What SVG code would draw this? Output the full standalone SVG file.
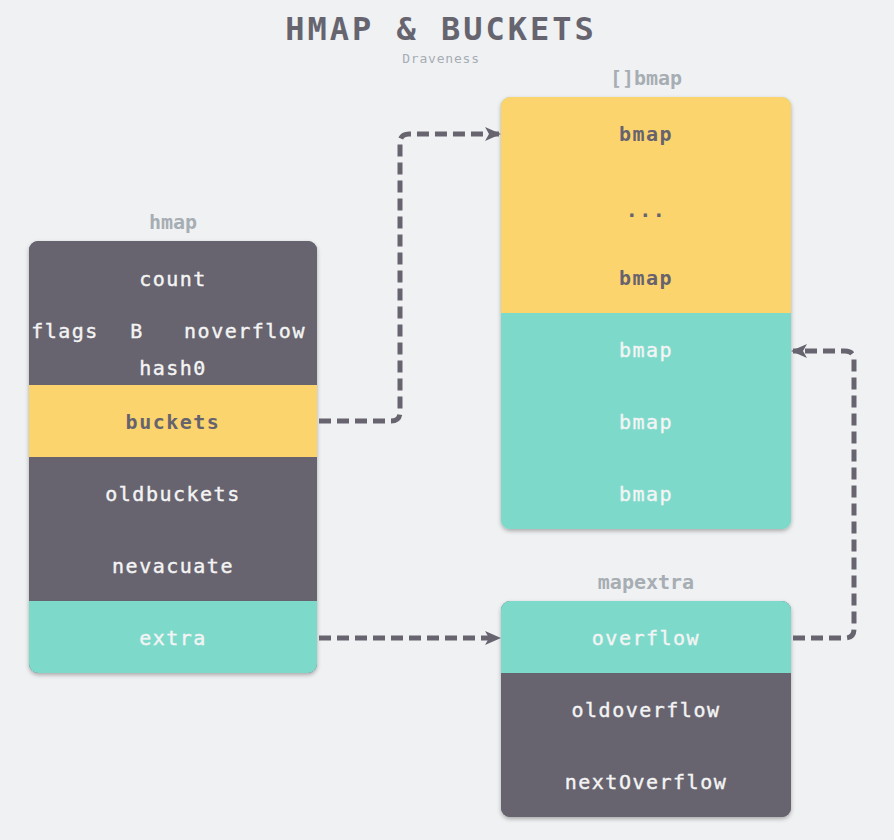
<svg xmlns="http://www.w3.org/2000/svg" width="894" height="840" viewBox="0 0 894 840">
<style>
.t{font-family:"DejaVu Sans Mono","Liberation Mono",monospace;font-size:20px;letter-spacing:1.5px;text-anchor:middle;fill:#f4f4f4;stroke:#f4f4f4;stroke-width:0.4px}
.d{fill:#66636f;stroke:none;font-weight:bold}
.lbl{font-family:"DejaVu Sans Mono","Liberation Mono",monospace;font-size:20px;font-weight:bold;text-anchor:middle;fill:#a6adb3}
.dark{fill:#67646f}.yel{fill:#fbd46d}.teal{fill:#7ddacb}
.c{fill:none;stroke:#67646f;stroke-width:5;stroke-dasharray:12 6}
</style>
<defs>
<filter id="sh" x="-10%" y="-10%" width="120%" height="120%"><feDropShadow dx="0" dy="2" stdDeviation="2" flood-color="#000" flood-opacity="0.3"/></filter>
<clipPath id="c1"><rect x="29" y="241" width="288" height="432" rx="9"/></clipPath>
<clipPath id="c2"><rect x="501" y="97" width="290" height="432" rx="9"/></clipPath>
<clipPath id="c3"><rect x="501" y="601" width="290" height="216" rx="9"/></clipPath>
<marker id="ar" markerWidth="16" markerHeight="16" refX="14" refY="8" orient="auto" markerUnits="userSpaceOnUse"><path d="M0,1 L16,8 L0,15 L4,8 Z" fill="#67646f"/></marker>
</defs>
<rect width="894" height="840" fill="#f0f1f3"/>
<text x="441" y="40" font-family="DejaVu Sans Mono,Liberation Mono,monospace" font-size="32" font-weight="bold" letter-spacing="3" text-anchor="middle" fill="#66656f">HMAP &amp; BUCKETS</text>
<text x="441" y="63" font-family="DejaVu Sans Mono,Liberation Mono,monospace" font-size="13" letter-spacing="0.8" text-anchor="middle" fill="#a6adb3">Draveness</text>
<g id="hmap">
<text class="lbl" x="173" y="229">hmap</text>
<rect x="29" y="241" width="288" height="432" rx="9" fill="#67646f" filter="url(#sh)"/>
<g clip-path="url(#c1)">
<rect class="dark" x="29" y="241" width="288" height="144"/>
<rect class="yel" x="29" y="385" width="288" height="72"/>
<rect class="dark" x="29" y="457" width="288" height="144"/>
<rect class="teal" x="29" y="601" width="288" height="72"/>
</g>
<text class="t" x="173" y="286">count</text>
<text class="t" x="65" y="338">flags</text>
<text class="t" x="137" y="338">B</text>
<text class="t" x="245" y="338">noverflow</text>
<text class="t" x="173" y="375">hash0</text>
<text class="t d" x="173" y="429">buckets</text>
<text class="t" x="173" y="501">oldbuckets</text>
<text class="t" x="173" y="573">nevacuate</text>
<text class="t" x="173" y="645">extra</text>
</g>
<g id="bmaps">
<text class="lbl" x="646" y="85">[]bmap</text>
<rect x="501" y="97" width="290" height="432" rx="9" fill="#7ddacb" filter="url(#sh)"/>
<g clip-path="url(#c2)">
<rect class="yel" x="501" y="97" width="290" height="216"/>
<rect class="teal" x="501" y="313" width="290" height="216"/>
</g>
<text class="t d" x="646" y="141">bmap</text>
<text class="t d" x="646" y="217">...</text>
<text class="t d" x="646" y="285">bmap</text>
<text class="t" x="646" y="357">bmap</text>
<text class="t" x="646" y="429">bmap</text>
<text class="t" x="646" y="501">bmap</text>
</g>
<g id="mapextra">
<text class="lbl" x="646" y="589">mapextra</text>
<rect x="501" y="601" width="290" height="216" rx="9" fill="#67646f" filter="url(#sh)"/>
<g clip-path="url(#c3)">
<rect class="teal" x="501" y="601" width="290" height="72"/>
<rect class="dark" x="501" y="673" width="290" height="144"/>
</g>
<text class="t" x="646" y="645">overflow</text>
<text class="t" x="646" y="717">oldoverflow</text>
<text class="t" x="646" y="789">nextOverflow</text>
</g>
<g id="connectors">
<path class="c" d="M319 421 H391 Q400 421 400 412 V143 Q400 134 409 134 H499" marker-end="url(#ar)"/>
<path class="c" d="M319 638 H499" marker-end="url(#ar)"/>
<path class="c" d="M793 638 H845 Q854 638 854 629 V360 Q854 351 845 351 H793" marker-end="url(#ar)"/>
</g>
</svg>
